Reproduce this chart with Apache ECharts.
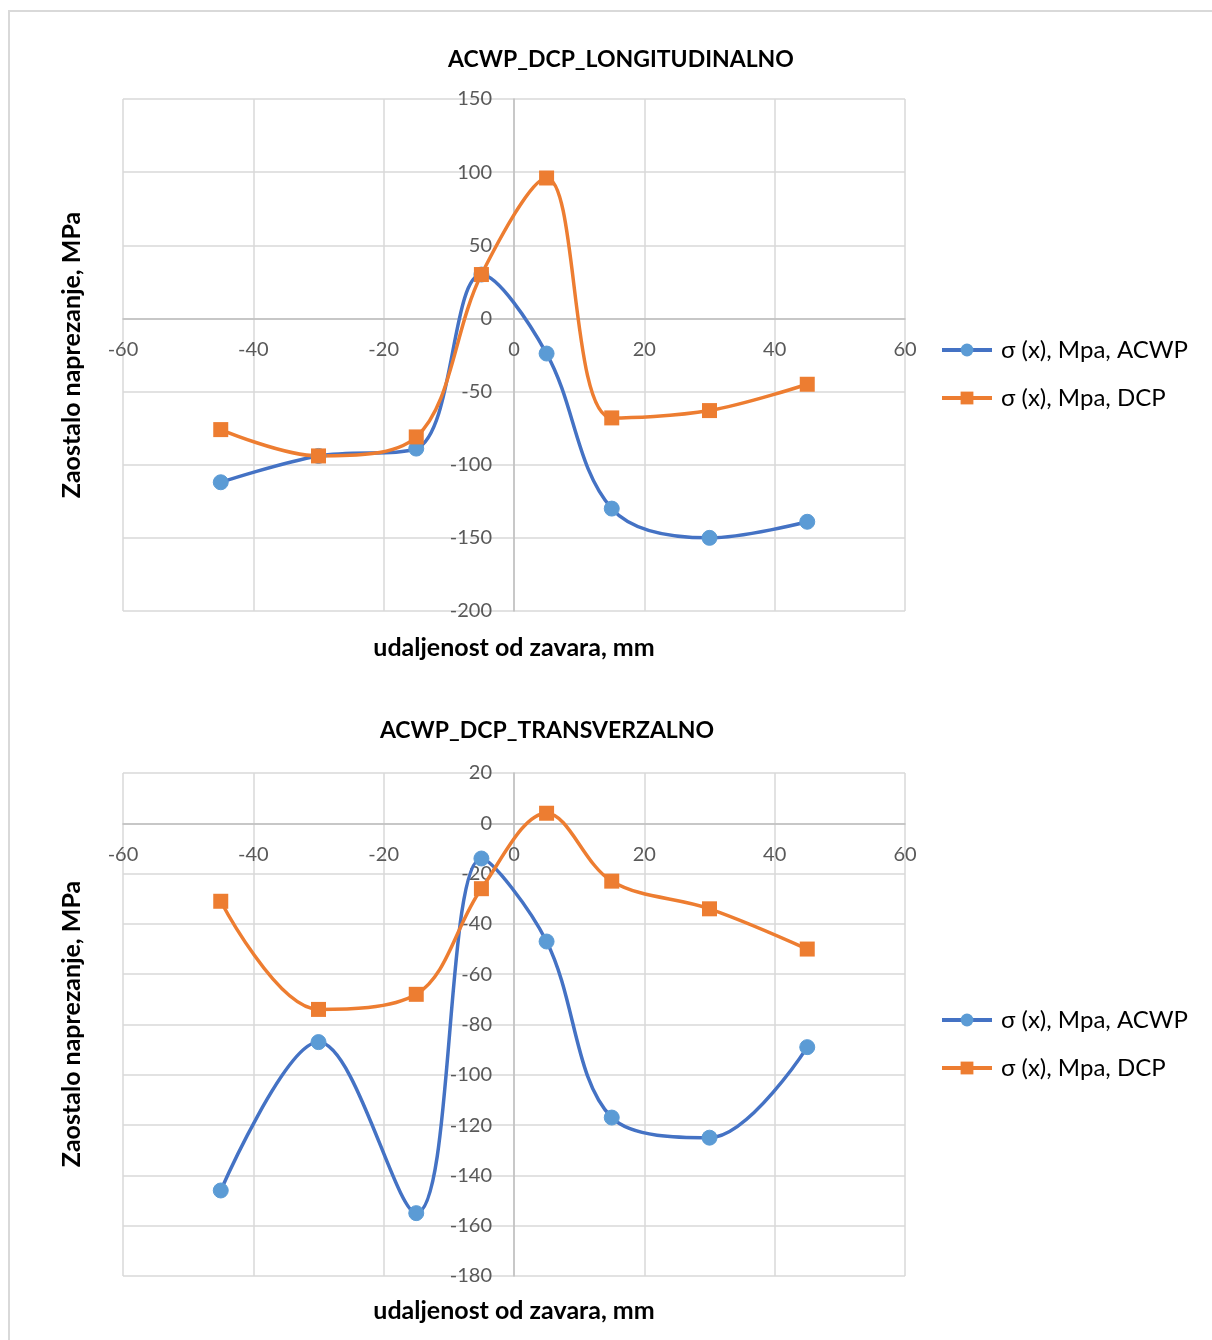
<!DOCTYPE html>
<html>
<head>
<meta charset="utf-8">
<title>ACWP_DCP</title>
<style>
	body{ margin:0; background:#fff; }
	.box{
		position:absolute;
		left:8px;
		width:1220px;
		border:2px solid #d9d9d9;
		background:#fff;
	}
	#top{ top:10px; height:673px; }
	#bottom{ top:685px; height:670px; border-top:none; }
</style>
</head>
<body>
<div class="box" id="top"></div>
<div class="box" id="bottom"></div>

<script src="https://cdn.jsdelivr.net/npm/echarts@6/dist/echarts.min.js"></script>
<script>
// udaljenost od zavara, mm
var xPos = [-45, -30, -15, -5, 5, 15, 30, 45];

// longitudinalno
var longAcwp = [-112, -94, -89, 30, -24, -130, -150, -139];
var longDcp = [-76, -94, -81, 30, 96, -68, -63, -45];

// transverzalno
var transAcwp = [-146, -87, -155, -14, -47, -117, -125, -89];
var transDcp = [-31, -74, -68, -26, 4, -23, -34, -50];

var nameAcwp = 'σ (x), Mpa, ACWP';
var nameDcp = 'σ (x), Mpa, DCP';

var font = 'Lato, "Open Sans", sans-serif';
var gridW = 782;

function pairs(ys){
	var out = [];
	for (var i = 0; i < xPos.length; i++) out.push([xPos[i], ys[i]]);
	return out;
}

function buildOption(cfg){
	// axes cross at zero, like the excel chart
	var xOff = -cfg.gridH * (0 - cfg.yMin) / (cfg.yMax - cfg.yMin);
	var yOff = -gridW * 60 / 120;
	return {
		animation: false,
		title: {
			text: cfg.title,
			left: cfg.titleX,
			top: cfg.titleY,
			textAlign: 'center',
			textStyle: { fontFamily: font, fontWeight: 'bold', fontSize: 23, color: '#000' }
		},
		legend: {
			orient: 'vertical',
			left: 925,
			top: cfg.legendY,
			itemWidth: 50,
			itemHeight: 16,
			itemGap: 24,
			lineStyle: { width: 4 },
			textStyle: { fontFamily: font, fontSize: 24, color: '#000', padding: [0, 0, 0, 4] },
			data: [nameAcwp, nameDcp]
		},
		grid: { left: 113, top: cfg.gridTop, width: gridW, height: cfg.gridH, containLabel: false },
		xAxis: {
			type: 'value',
			position: 'bottom',
			offset: xOff,
			min: -60, max: 60, interval: 20,
			axisLine: { show: true, onZero: false, lineStyle: { color: '#bfbfbf', width: 1.5 } },
			axisTick: { show: false },
			axisLabel: { margin: 21, fontFamily: font, fontSize: 20, color: '#595959', showMinLabel: true, showMaxLabel: true },
			splitLine: { show: true, lineStyle: { color: '#d9d9d9', width: 1.5 } }
		},
		yAxis: {
			type: 'value',
			position: 'left',
			offset: yOff,
			min: cfg.yMin, max: cfg.yMax, interval: cfg.yStep,
			axisLine: { show: true, onZero: false, lineStyle: { color: '#bfbfbf', width: 1.5 } },
			axisTick: { show: false },
			axisLabel: { margin: 22, fontFamily: font, fontSize: 20, color: '#595959', showMinLabel: true, showMaxLabel: true },
			splitLine: { show: true, lineStyle: { color: '#d9d9d9', width: 1.5 } }
		},
		graphic: [
			{
				type: 'text', x: 62, y: cfg.yNameY, rotation: Math.PI / 2,
				style: { text: 'Zaostalo naprezanje, MPa', align: 'center', verticalAlign: 'middle',
					font: 'bold 25px ' + font, fill: '#000' }
			},
			{
				type: 'text', x: 504, y: cfg.xNameY,
				style: { text: 'udaljenost od zavara, mm', align: 'center', verticalAlign: 'middle',
					font: 'bold 25px ' + font, fill: '#000' }
			}
		],
		series: [
			{
				name: nameAcwp,
				type: 'line',
				smooth: 0.35,
				symbol: 'circle',
				symbolSize: 15,
				lineStyle: { color: '#4472c4', width: 3.5 },
				itemStyle: { color: '#5b9bd5', borderColor: '#5b9bd5' },
				data: pairs(cfg.acwp)
			},
			{
				name: nameDcp,
				type: 'line',
				smooth: 0.35,
				symbol: 'rect',
				symbolSize: 15,
				lineStyle: { color: '#ed7d31', width: 3.5 },
				itemStyle: { color: '#ed7d31' },
				data: pairs(cfg.dcp)
			}
		]
	};
}

var topChart = echarts.init(document.getElementById('top'));
topChart.setOption(buildOption({
	title: 'ACWP_DCP_LONGITUDINALNO', titleX: 606, titleY: 31,
	legendY: 321, gridTop: 87, gridH: 512,
	yMin: -200, yMax: 150, yStep: 50,
	yNameY: 343, xNameY: 636,
	acwp: longAcwp, dcp: longDcp
}));

var bottomChart = echarts.init(document.getElementById('bottom'));
bottomChart.setOption(buildOption({
	title: 'ACWP_DCP_TRANSVERZALNO', titleX: 532, titleY: 29,
	legendY: 318, gridTop: 88, gridH: 503,
	yMin: -180, yMax: 20, yStep: 20,
	yNameY: 339, xNameY: 626,
	acwp: transAcwp, dcp: transDcp
}));
</script>
</body>
</html>
